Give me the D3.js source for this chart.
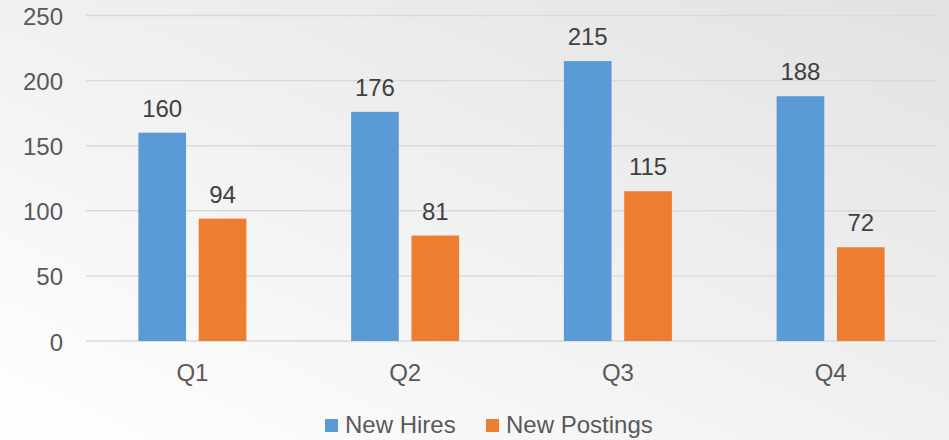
<!DOCTYPE html>
<html>
<head>
<meta charset="utf-8">
<script src="https://cdn.jsdelivr.net/npm/d3@7"></script>
<style>
  body { margin: 0; }
  svg { display: block; font-family: "Liberation Sans", Arial, sans-serif; }
</style>
</head>
<body>
<div id="chart"></div>
<script>
var svgWidth = 949;
var svgHeight = 440;

// chart values
var quarters = ["Q1", "Q2", "Q3", "Q4"];
var seriesNames = ["New Hires", "New Postings"];
var newHires = [160, 176, 215, 188];
var newPostings = [94, 81, 115, 72];
var yTicks = [0, 50, 100, 150, 200, 250];

var colors = ["#5B9BD5", "#ED7D31"];

var margin = { top: 15.5, right: 12, bottom: 99, left: 86 };
var width = svgWidth - margin.left - margin.right;
var height = svgHeight - margin.top - margin.bottom;

var svg = d3.select("#chart")
  .append("svg")
  .attr("width", svgWidth)
  .attr("height", svgHeight);

// background gradient, light bottom-left to grey top-right
var grad = svg.append("defs").append("linearGradient")
  .attr("id", "bg")
  .attr("x1", "0%").attr("y1", "100%")
  .attr("x2", "100%").attr("y2", "0%");
grad.append("stop").attr("offset", "0%").attr("stop-color", "#ffffff");
grad.append("stop").attr("offset", "100%").attr("stop-color", "#e2e2e2");

svg.append("rect")
  .attr("width", svgWidth)
  .attr("height", svgHeight)
  .attr("fill", "url(#bg)");

var chartGroup = svg.append("g")
  .attr("transform", `translate(${margin.left}, ${margin.top})`);

var x0 = d3.scaleBand()
  .domain(quarters)
  .range([0, width]);

// two bars per quarter, 108px wide cluster
var x1 = d3.scaleBand()
  .domain(seriesNames)
  .range([0, 108])
  .paddingInner(0.21);

var y = d3.scaleLinear()
  .domain([0, 250])
  .range([height, 0]);

// gridlines
chartGroup.selectAll("line.grid")
  .data(yTicks)
  .enter()
  .append("line")
  .attr("class", "grid")
  .attr("x1", 0)
  .attr("x2", width)
  .attr("y1", d => y(d))
  .attr("y2", d => y(d))
  .attr("stroke", "#d9d9d9")
  .attr("stroke-width", 1.4);

// y axis labels
var leftAxis = d3.axisLeft(y).tickValues(yTicks).tickSize(0).tickPadding(23);
chartGroup.append("g")
  .call(leftAxis)
  .call(g => g.select(".domain").remove())
  .selectAll("text")
  .attr("dy", "9px")
  .attr("fill", "#595959")
  .style("font-size", "24px");

// x axis labels
var bottomAxis = d3.axisBottom(x0).tickSize(0).tickPadding(0);
chartGroup.append("g")
  .attr("transform", `translate(0, ${height})`)
  .call(bottomAxis)
  .call(g => g.select(".domain").remove())
  .selectAll("text")
  .attr("y", 40)
  .attr("dy", 0)
  .attr("fill", "#595959")
  .style("font-size", "24px");

var rows = quarters.map((q, i) => ({ q: q, values: [newHires[i], newPostings[i]] }));

var groups = chartGroup.selectAll("g.quarter")
  .data(rows)
  .enter()
  .append("g")
  .attr("class", "quarter")
  .attr("transform", d => `translate(${x0(d.q) + (x0.bandwidth() - 108) / 2}, 0)`);

var cells = groups.selectAll("g.bar")
  .data(d => d.values.map((v, j) => ({ name: seriesNames[j], value: v, j: j })))
  .enter()
  .append("g");

cells.append("rect")
  .attr("x", d => x1(d.name))
  .attr("width", x1.bandwidth())
  .attr("y", d => y(d.value))
  .attr("height", d => height - y(d.value))
  .attr("fill", d => colors[d.j]);

cells.append("text")
  .attr("x", d => x1(d.name) + x1.bandwidth() / 2)
  .attr("y", d => y(d.value) - 16)
  .attr("text-anchor", "middle")
  .attr("fill", "#404040")
  .style("font-size", "24px")
  .text(d => d.value);

// legend
var legendX = [325, 486];
var legend = svg.append("g");
var items = legend.selectAll("g")
  .data(seriesNames)
  .enter()
  .append("g")
  .attr("transform", (d, i) => `translate(${legendX[i]}, 419)`);

items.append("rect")
  .attr("width", 13)
  .attr("height", 13)
  .attr("fill", (d, i) => colors[i]);

items.append("text")
  .attr("x", 20)
  .attr("y", 14)
  .attr("fill", "#595959")
  .style("font-size", "24px")
  .text(d => d);
</script>
</body>
</html>
